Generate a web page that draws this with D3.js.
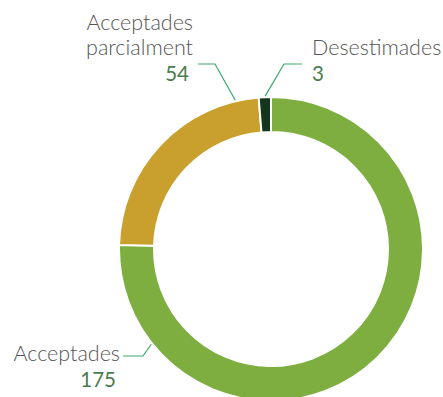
<!DOCTYPE html>
<html>
<head>
<meta charset="utf-8">
<script src="https://cdn.jsdelivr.net/npm/d3@7/dist/d3.min.js"></script>
<style>
  html, body { margin: 0; padding: 0; background: #fff; }
  svg { display: block; font-family: Lato, "Open Sans", sans-serif; }
</style>
</head>
<body>
<svg id="chart" width="443" height="397"></svg>
<script>
// Resolution outcomes
const categories = ["Acceptades", "Acceptades parcialment", "Desestimades"];
const values = [175, 54, 3];
const colors = ["#7fae40", "#c9a02e", "#14361c"];

// Label placement per slice: anchor angle on the outer rim (deg, clockwise from 12 o'clock),
// elbow point, end of horizontal leader, text anchor and text lines.
const labelLayout = [
  { anchorDeg: 231.5, elbow: [143, 356], end: [123, 356], tx: 120, ty: 361, anchor: "end", lines: ["Acceptades"] },
  { anchorDeg: 346.5, elbow: [215, 64], end: [198, 64], tx: 193, ty: 30, anchor: "end", lines: ["Acceptades", "parcialment"] },
  { anchorDeg: 357.8, elbow: [284, 64], end: [302, 64], tx: 312, ty: 55, anchor: "start", lines: ["Desestimades"] }
];

const cx = 271, cy = 249, outerR = 152, innerR = 117;

const svg = d3.select("#chart");
const g = svg.append("g").attr("transform", `translate(${cx},${cy})`);

const pie = d3.pie().sort(null).value(d => d.value);
const arcs = pie(categories.map((c, i) => ({ name: c, value: values[i], color: colors[i] })));
const arc = d3.arc().innerRadius(innerR).outerRadius(outerR);

g.selectAll("path.slice")
  .data(arcs)
  .join("path")
  .attr("class", "slice")
  .attr("d", arc)
  .attr("fill", d => d.data.color)
  .attr("stroke", "#fff")
  .attr("stroke-width", 2);

// Leader lines and labels
const lineH = 25;
arcs.forEach((a, i) => {
  const L = labelLayout[i];
  const ang = L.anchorDeg * Math.PI / 180;
  const ax = cx + Math.sin(ang) * (outerR + 1);
  const ay = cy - Math.cos(ang) * (outerR + 1);
  svg.append("polyline")
    .attr("points", [[ax, ay], L.elbow, L.end].map(p => p.join(",")).join(" "))
    .attr("fill", "none")
    .attr("stroke", "#3aa86a")
    .attr("stroke-width", 1.2);

  const t = svg.append("text")
    .attr("text-anchor", L.anchor)
    .attr("font-size", 21.5)
    .attr("font-weight", 300);
  L.lines.forEach((ln, k) => {
    t.append("tspan").attr("x", L.tx).attr("y", L.ty + k * lineH).attr("fill", "#555").text(ln);
  });
  t.append("tspan")
    .attr("x", L.anchor === "end" ? L.tx - 4 : L.tx)
    .attr("y", L.ty + L.lines.length * lineH + 1)
    .attr("fill", "#4a7c50")
    .attr("font-size", 20.5)
    .attr("font-weight", 400)
    .text(a.data.value);
});
</script>
</body>
</html>
